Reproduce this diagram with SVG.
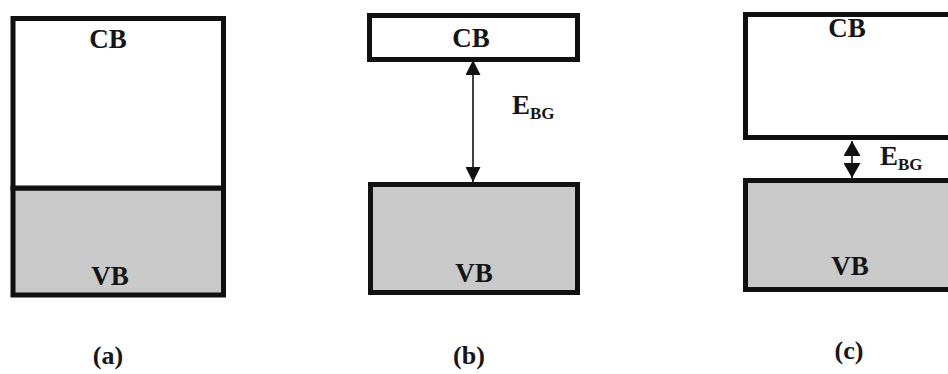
<svg xmlns="http://www.w3.org/2000/svg" width="948" height="374" viewBox="0 0 948 374">
<style>
.box{fill:#fff;stroke:#111;stroke-width:5}
.vb{fill:#c9c9c9;stroke:#111;stroke-width:5}
.t{font-family:"Liberation Serif","Times New Roman",serif;font-weight:bold;fill:#151515;text-anchor:middle}
.lab{font-size:27px}
.e{font-size:27px;text-anchor:start}
.sub{font-size:17px}
.cap{font-size:26px}
.conn{stroke:#111;stroke-width:1.6;fill:none}
</style>
<defs>
<marker id="arr" viewBox="0 0 10 10" refX="10" refY="5" markerUnits="userSpaceOnUse" markerWidth="15" markerHeight="15" orient="auto-start-reverse">
<path d="M0,0 L10,5 L0,10 z" fill="#111"/>
</marker>
<marker id="arr2" viewBox="0 0 10 10" refX="10" refY="5" markerUnits="userSpaceOnUse" markerWidth="15" markerHeight="17" orient="auto-start-reverse" preserveAspectRatio="none">
<path d="M0,0 L10,5 L0,10 z" fill="#111"/>
</marker>
</defs>

<g id="a">
<rect class="vb" x="13" y="188" width="210.5" height="107"/>
<rect class="box" x="13" y="18.5" width="210.5" height="169.5"/>
<text class="t lab" x="108" y="48">CB</text>
<text class="t lab" x="110" y="285">VB</text>
<text class="t cap" x="108" y="364">(a)</text>
</g>

<g id="b-cb">
<rect class="box" x="369.5" y="15.5" width="208" height="44"/>
<text class="t lab" x="471" y="47">CB</text>
</g>
<g id="b-vb">
<rect class="vb" x="370.5" y="184.5" width="207" height="108"/>
<text class="t lab" x="474" y="282">VB</text>
</g>
<g id="b-label">
<text class="t e" x="512" y="114">E<tspan class="sub" dy="5">BG</tspan></text>
<text class="t cap" x="469" y="364">(b)</text>
</g>

<g id="c-cb">
<rect class="box" x="745.5" y="14.5" width="220" height="123"/>
<text class="t lab" x="847" y="37">CB</text>
</g>
<g id="c-vb">
<rect class="vb" x="745.5" y="180.5" width="220" height="109"/>
<text class="t lab" x="850" y="275">VB</text>
</g>
<g id="c-label">
<text class="t e" x="880" y="165">E<tspan class="sub" dy="5">BG</tspan></text>
<text class="t cap" x="849" y="359">(c)</text>
</g>

<g id="connectors">
<line class="conn" x1="473" y1="60" x2="473" y2="182" marker-start="url(#arr)" marker-end="url(#arr)"/>
<line class="conn" x1="852" y1="141" x2="852" y2="178" stroke-width="2.5" marker-start="url(#arr2)" marker-end="url(#arr2)"/>
</g>
</svg>
